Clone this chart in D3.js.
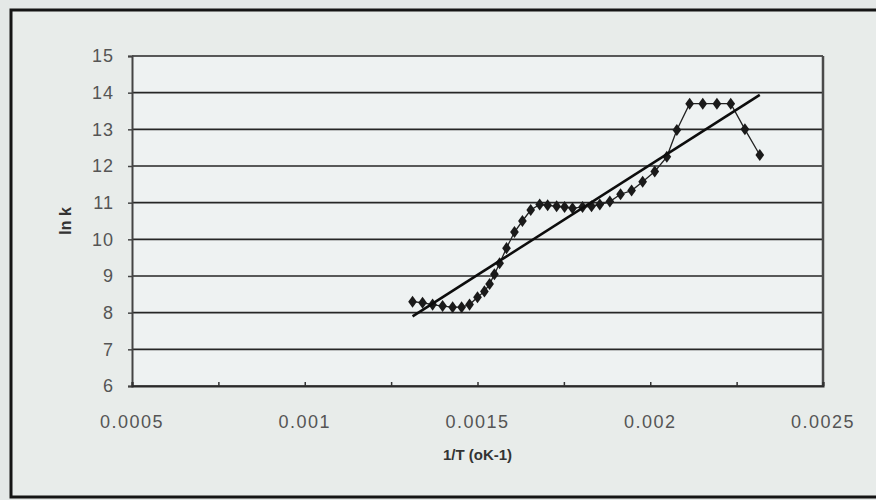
<!DOCTYPE html>
<html>
<head>
<meta charset="utf-8">
<script src="https://cdn.jsdelivr.net/npm/d3@7"></script>
<style>
  html, body { margin: 0; padding: 0; background: #e4e8e7; }
  svg { display: block; }
</style>
</head>
<body>
<svg id="chart" width="876" height="500"></svg>
<script>
// ---- data ----
const invT = [0.001312, 0.001341, 0.001370, 0.001399, 0.001428, 0.001454, 0.001477,
  0.001500, 0.001520, 0.001535, 0.001549, 0.001564, 0.001584, 0.001607, 0.001630,
  0.001654, 0.001680, 0.001703, 0.001729, 0.001752, 0.001775, 0.001804, 0.001830,
  0.001854, 0.001883, 0.001914, 0.001946, 0.001978, 0.002013, 0.002048, 0.002077,
  0.002114, 0.002152, 0.002193, 0.002233, 0.002274, 0.002317];
const lnK = [8.30, 8.27, 8.22, 8.18, 8.15, 8.15, 8.22,
  8.42, 8.58, 8.78, 9.05, 9.35, 9.76, 10.2, 10.5,
  10.8, 10.95, 10.93, 10.90, 10.88, 10.85, 10.88, 10.90,
  10.95, 11.03, 11.23, 11.33, 11.57, 11.85, 12.25, 12.98,
  13.70, 13.70, 13.70, 13.70, 13.00, 12.30];
const trendX = [0.001312, 0.002317];
const trendY = [7.90, 13.94];
const xTickLabels = [0.0005, 0.001, 0.0015, 0.002, 0.0025];
const xMinorTicks = [0.0005, 0.00075, 0.001, 0.00125, 0.0015, 0.00175, 0.002, 0.00225, 0.0025];
const yTickValues = [6, 7, 8, 9, 10, 11, 12, 13, 14, 15];
const xTitle = "1/T  (oK-1)";
const yTitle = "ln k";

// ---- layout ----
const svg = d3.select("#chart");
const W = 876, H = 500;
const plot = { left: 132, right: 823, top: 56, bottom: 386 };
const FONT = "Liberation Sans, Arial, sans-serif";

svg.append("rect").attr("x", 0).attr("y", 0).attr("width", W).attr("height", H)
  .attr("fill", "#e4e8e7");
svg.append("rect").attr("x", 11).attr("y", 10).attr("width", 900).attr("height", 487)
  .attr("fill", "#e8ecea").attr("stroke", "#151515").attr("stroke-width", 3);

const x = d3.scaleLinear().domain([0.0005, 0.0025]).range([plot.left, plot.right]);
const y = d3.scaleLinear().domain([6, 15]).range([plot.bottom, plot.top]);

// plot area background
svg.append("rect").attr("x", plot.left).attr("y", plot.top)
  .attr("width", plot.right - plot.left).attr("height", plot.bottom - plot.top)
  .attr("fill", "#eef2f2");

// gridlines
svg.append("g").selectAll("line").data(yTickValues).join("line")
  .attr("x1", plot.left).attr("x2", plot.right)
  .attr("y1", d => y(d)).attr("y2", d => y(d))
  .attr("stroke", "#262626").attr("stroke-width", 1.6);

// right border
svg.append("line").attr("x1", plot.right).attr("x2", plot.right)
  .attr("y1", plot.top).attr("y2", plot.bottom)
  .attr("stroke", "#4a4a4a").attr("stroke-width", 2.5);

// y axis
const yAxis = d3.axisLeft(y).tickValues(yTickValues).tickSize(4).tickPadding(8)
  .tickFormat(d3.format("d"));
const gy = svg.append("g").attr("transform", `translate(${plot.left},0)`).call(yAxis);
gy.select(".domain").attr("stroke", "#444").attr("stroke-width", 2);
gy.selectAll(".tick line").attr("stroke", "#444").attr("stroke-width", 1.5);
gy.selectAll(".tick text").attr("font-family", FONT)
  .attr("font-size", 18).attr("fill", "#555").attr("dx", -6)
  .attr("letter-spacing", 1);

// x axis: minor inward ticks + labels
const xAxis = d3.axisBottom(x).tickValues(xMinorTicks).tickSize(-4).tickPadding(0)
  .tickFormat("");
const gx = svg.append("g").attr("transform", `translate(0,${plot.bottom})`).call(xAxis);
gx.select(".domain").attr("stroke", "#2a2a2a").attr("stroke-width", 2);
gx.selectAll(".tick line").attr("stroke", "#333").attr("stroke-width", 1.5);

svg.append("g").selectAll("text").data(xTickLabels).join("text")
  .attr("x", d => x(d)).attr("y", 428)
  .attr("text-anchor", "middle")
  .attr("font-family", FONT)
  .attr("font-size", 18).attr("fill", "#555").attr("letter-spacing", 1.5)
  .text(d => String(d));

// axis titles
svg.append("text").attr("x", (plot.left + plot.right) / 2).attr("y", 460)
  .attr("text-anchor", "middle")
  .attr("font-family", FONT)
  .attr("font-size", 15).attr("font-weight", "bold").attr("fill", "#333")
  .text(xTitle);
svg.append("text")
  .attr("transform", `translate(71,${(plot.top + plot.bottom) / 2}) rotate(-90)`)
  .attr("text-anchor", "middle")
  .attr("font-family", FONT)
  .attr("font-size", 16).attr("font-weight", "bold").attr("fill", "#333")
  .text(yTitle);

// data series
const pts = invT.map((v, i) => [v, lnK[i]]);
svg.append("path").datum(pts)
  .attr("fill", "none").attr("stroke", "#222").attr("stroke-width", 1.3)
  .attr("d", d3.line().x(d => x(d[0])).y(d => y(d[1])));

svg.append("g").selectAll("path").data(pts).join("path")
  .attr("transform", d => `translate(${x(d[0])},${y(d[1])}) scale(1.25,1)`)
  .attr("d", d3.symbol().type(d3.symbolDiamond).size(42))
  .attr("fill", "#1a1a1a");

// trend line
const tr = trendX.map((v, i) => [v, trendY[i]]);
svg.append("path").datum(tr)
  .attr("fill", "none").attr("stroke", "#0d0d0d").attr("stroke-width", 2.6)
  .attr("d", d3.line().x(d => x(d[0])).y(d => y(d[1])));
</script>
</body>
</html>
